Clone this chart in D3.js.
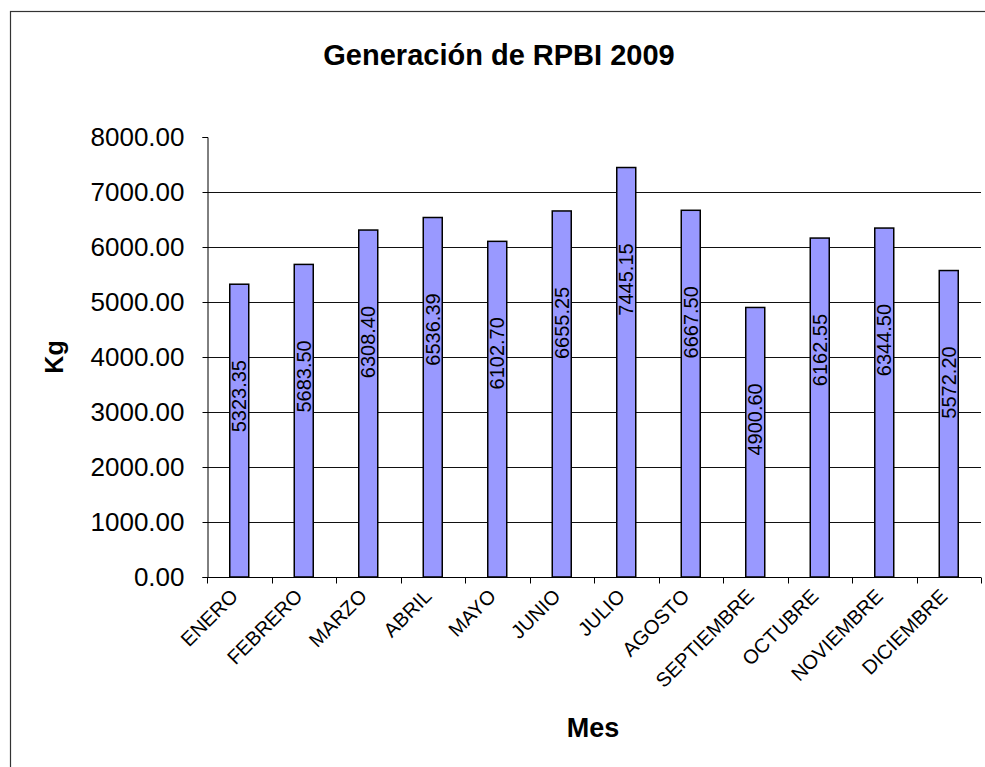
<!DOCTYPE html>
<meta charset="utf-8">
<head>
<script src="https://d3js.org/d3.v7.min.js"></script>
<style>
  body { margin: 0; background: #fff; }
  text { font-family: "Liberation Sans", Arial, sans-serif; }
</style>
</head>
<body>
<svg id="chart" width="985" height="767"></svg>
<script>
var meses = ["ENERO", "FEBRERO", "MARZO", "ABRIL", "MAYO", "JUNIO", "JULIO",
             "AGOSTO", "SEPTIEMBRE", "OCTUBRE", "NOVIEMBRE", "DICIEMBRE"];
var kg = [5323.35, 5683.50, 6308.40, 6536.39, 6102.70, 6655.25, 7445.15,
          6667.50, 4900.60, 6162.55, 6344.50, 5572.20];
var yTicks = [0, 1000, 2000, 3000, 4000, 5000, 6000, 7000, 8000];

var svg = d3.select("#chart");

// plot area
var pLeft = 207, pRight = 981, pTop = 137, pBottom = 577;

// outer frame
svg.append("rect")
  .attr("x", 10.5).attr("y", 11.5)
  .attr("width", 1000).attr("height", 1000)
  .attr("fill", "#fff").attr("stroke", "#333").attr("stroke-width", 1.2);

var x = d3.scaleBand().domain(meses).range([pLeft, pRight]);
var y = d3.scaleLinear().domain([0, 8000]).range([pBottom, pTop]);

// gridlines
svg.append("g")
  .selectAll("line")
  .data(yTicks.filter(function(d) { return d > 0 && d < 8000; }))
  .enter().append("line")
  .attr("x1", pLeft).attr("x2", pRight)
  .attr("y1", function(d) { return Math.round(y(d)) + 0.5; })
  .attr("y2", function(d) { return Math.round(y(d)) + 0.5; })
  .attr("stroke", "#111").attr("stroke-width", 1);

// y axis
var gy = svg.append("g")
  .attr("transform", "translate(" + (pLeft + 0.5) + ",0)")
  .call(d3.axisLeft(y).tickValues(yTicks).tickSize(5).tickPadding(18)
    .tickFormat(d3.format(".2f")));
gy.selectAll("text").style("font-size", "26px").attr("fill", "#000");
gy.selectAll("line, path").attr("stroke", "#000");

// bars
var bw = 19;
svg.append("g")
  .selectAll("rect")
  .data(kg)
  .enter().append("rect")
  .attr("x", function(d, i) { return x(meses[i]) + x.bandwidth() / 2 - bw / 2; })
  .attr("y", function(d) { return y(d); })
  .attr("width", bw)
  .attr("height", function(d) { return pBottom - y(d); })
  .attr("fill", "#9999FF")
  .attr("stroke", "#000").attr("stroke-width", 1.5);

// x axis
var gx = svg.append("g")
  .attr("transform", "translate(0," + (pBottom + 0.5) + ")");
gx.append("line").attr("x1", pLeft).attr("x2", pRight).attr("stroke", "#000");
gx.selectAll("line.tk")
  .data(d3.range(meses.length + 1))
  .enter().append("line").attr("class", "tk")
  .attr("x1", function(i) { return Math.round(pLeft + i * x.step()) + 0.5; })
  .attr("x2", function(i) { return Math.round(pLeft + i * x.step()) + 0.5; })
  .attr("y1", 0).attr("y2", 6)
  .attr("stroke", "#000");
gx.selectAll("text")
  .data(meses)
  .enter().append("text")
  .attr("transform", function(d) {
    return "translate(" + (x(d) + x.bandwidth() / 2) + ",20) rotate(-45)";
  })
  .attr("text-anchor", "end")
  .style("font-size", "20px")
  .text(function(d) { return d; });

// data labels
svg.append("g")
  .selectAll("text")
  .data(kg)
  .enter().append("text")
  .attr("transform", function(d, i) {
    return "translate(" + (x(meses[i]) + x.bandwidth() / 2) + "," + (y(d) + 112) + ") rotate(-90)";
  })
  .attr("text-anchor", "middle")
  .attr("dominant-baseline", "central")
  .style("font-size", "20px")
  .text(function(d) { return d.toFixed(2); });

// titles
svg.append("text")
  .attr("x", 499).attr("y", 65)
  .attr("text-anchor", "middle")
  .style("font-size", "29px").style("font-weight", "bold")
  .text("Generación de RPBI 2009");

svg.append("text")
  .attr("transform", "translate(63,357) rotate(-90)")
  .attr("text-anchor", "middle")
  .style("font-size", "25px").style("font-weight", "bold")
  .text("Kg");

svg.append("text")
  .attr("x", 593).attr("y", 737)
  .attr("text-anchor", "middle")
  .style("font-size", "27px").style("font-weight", "bold")
  .text("Mes");
</script>
</body>
